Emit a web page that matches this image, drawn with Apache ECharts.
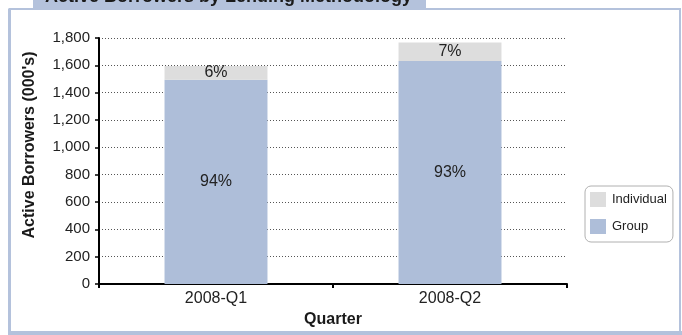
<!DOCTYPE html>
<html>
<head>
<meta charset="utf-8">
<script src="https://cdn.jsdelivr.net/npm/echarts@6/dist/echarts.min.js"></script>
<style>
  html, body { margin: 0; padding: 0; background: #fff; }
  #chart { width: 682px; height: 335px; }
</style>
</head>
<body>
<div id="chart"></div>
<script>
// Active borrowers (thousands) per quarter, split by lending methodology
const quarters = ['2008-Q1', '2008-Q2'];
const groupBorrowers = [1495, 1632];
const individualBorrowers = [100, 135];
const groupShareLabels = ['94%', '93%'];
const individualShareLabels = ['6%', '7%'];
const yTicks = [0, 200, 400, 600, 800, 1000, 1200, 1400, 1600, 1800];

const FONT = 'Liberation Sans, Arial, sans-serif';
const FRAME = '#b4c2dc';

const chart = echarts.init(document.getElementById('chart'), null, { renderer: 'canvas' });

chart.setOption({
  animation: false,
  textStyle: { fontFamily: FONT },
  graphic: [
    // outer frame
    { type: 'rect', shape: { x: 9.5, y: 9, width: 670.5, height: 323 },
      style: { fill: 'none', stroke: FRAME, lineWidth: 2 }, z: 0 },
    { type: 'rect', shape: { x: 8, y: 9, width: 3, height: 325 },
      style: { fill: FRAME }, z: 1 },
    { type: 'rect', shape: { x: 8, y: 331, width: 674, height: 4 },
      style: { fill: FRAME }, z: 1 },
    // title tab
    { type: 'rect', shape: { x: 33, y: 0, width: 393, height: 9 },
      style: { fill: FRAME }, z: 2 },
    { type: 'text', left: 45, top: -12, z: 3,
      style: { text: 'Active Borrowers by Lending Methodology', fill: '#1a1a1a',
               font: 'bold 18px ' + FONT } }
  ],
  legend: {
    orient: 'vertical',
    left: 585, top: 186,
    padding: [6, 6, 8, 5],
    itemGap: 12,
    itemWidth: 16, itemHeight: 15,
    borderColor: '#b0b0b0', borderWidth: 1, borderRadius: 6,
    icon: 'rect',
    textStyle: { fontSize: 13, color: '#222', fontFamily: FONT, padding: [0, 0, 0, 1] },
    data: ['Individual', 'Group']
  },
  grid: { left: 99, right: 115, top: 38, bottom: 51, containLabel: false },
  xAxis: {
    type: 'category',
    data: quarters,
    name: 'Quarter',
    nameLocation: 'middle',
    nameGap: 19,
    nameTextStyle: { fontWeight: 'bold', fontSize: 16, color: '#1a1a1a', fontFamily: FONT },
    axisLine: { lineStyle: { color: '#000', width: 2 } },
    axisTick: { show: true, alignWithLabel: false, length: 4, lineStyle: { color: '#000', width: 2 } },
    axisLabel: { fontSize: 16, color: '#222', margin: 7, fontFamily: FONT }
  },
  yAxis: {
    type: 'value',
    min: 0, max: 1800, interval: 200,
    name: "Active Borrowers (000's)",
    nameLocation: 'middle',
    nameGap: 61,
    nameTextStyle: {
      fontWeight: 'bold', fontSize: 16, color: '#1a1a1a', fontFamily: FONT,
      padding: [0, 0, 0, 32]
    },
    axisLine: { show: true, lineStyle: { color: '#000', width: 2 } },
    axisTick: { show: true, length: 4, lineStyle: { color: '#000', width: 1.5 } },
    axisLabel: {
      fontSize: 15, color: '#222', margin: 9, fontFamily: FONT,
      formatter: v => yTicks.includes(v) ? v.toLocaleString('en-US') : ''
    },
    splitLine: { show: true, lineStyle: { color: '#555', type: [1, 2], width: 1 } }
  },
  series: [
    {
      name: 'Group',
      type: 'bar',
      stack: 'total',
      barWidth: '44%',
      data: groupBorrowers,
      itemStyle: { color: '#aebed9' },
      label: {
        show: true, position: 'inside', fontSize: 16, color: '#222', fontFamily: FONT,
        formatter: p => groupShareLabels[p.dataIndex]
      }
    },
    {
      name: 'Individual',
      type: 'bar',
      stack: 'total',
      data: individualBorrowers,
      itemStyle: { color: '#dddddd' },
      label: {
        show: true, position: 'inside', fontSize: 16, color: '#222', fontFamily: FONT,
        formatter: p => individualShareLabels[p.dataIndex]
      }
    }
  ]
});
</script>
</body>
</html>
